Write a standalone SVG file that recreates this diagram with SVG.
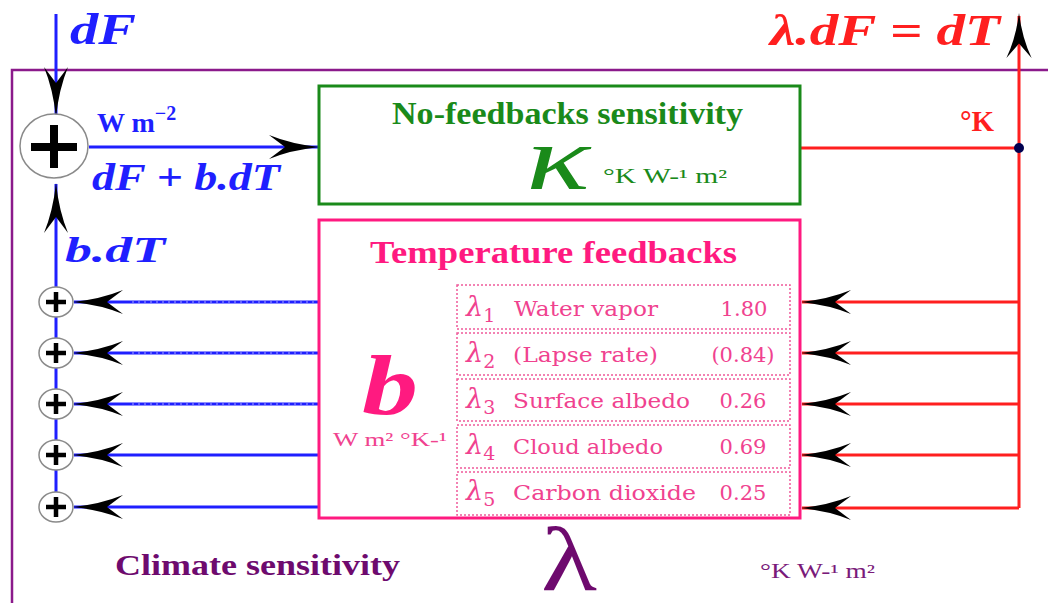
<svg xmlns="http://www.w3.org/2000/svg" width="1048" height="603" viewBox="0 0 1048 603">
<style>
.ser{font-family:"Liberation Serif","Times New Roman",serif}
.tab{font-family:"DejaVu Serif","Liberation Serif",serif;font-size:21px;fill:#f0428f}
.blu{fill:#1f1fff;font-weight:bold;font-style:italic}
.bl{stroke:#1f1fff;stroke-width:3;fill:none}
.rl{stroke:#ff1f1f;stroke-width:3;fill:none}
.sc{fill:#fff;stroke:#8a8a8a;stroke-width:1.5}
.row{fill:none;stroke:#f05a9a;stroke-width:1.5;stroke-dasharray:2 2}
</style>
<defs>
<path id="ah" d="M0,0 Q28,-3 50,-12 L34,0 L50,12 Q28,3 0,0 Z" fill="#000"/>
<g id="sp">
<ellipse class="sc" cx="0" cy="0" rx="17" ry="15"/>
<path d="M-10,0 H10 M0,-10 V10" stroke="#000" stroke-width="4.5"/>
</g>
</defs>
<rect width="1048" height="603" fill="#fff"/>
<g id="outer">
<path d="M1060,70 H12 V620" fill="none" stroke="#8b1a8b" stroke-width="2.5"/>
<text class="ser" x="115" y="575" font-size="30" font-weight="bold" fill="#6e0a6e" textLength="285" lengthAdjust="spacingAndGlyphs">Climate sensitivity</text>
<text class="ser" x="541" y="590" font-size="90" fill="#6e0a6e" textLength="56" lengthAdjust="spacingAndGlyphs">λ</text>
<text class="ser" x="760" y="578" font-size="20" fill="#7a1a7a" textLength="115" lengthAdjust="spacingAndGlyphs">°K W-¹ m²</text>
</g>
<g id="connectors">
<path class="bl" d="M56,14 V116"/>
<path class="bl" d="M89,147 H318"/>
<path class="bl" d="M56,184 V507"/>
<path class="bl" d="M320,302 H74 M320,353 H74 M320,404 H74 M320,455 H74 M320,507 H74"/>
<path d="M320,302 H130 M320,353 H130 M320,404 H130" stroke="#fff" stroke-width="1" stroke-dasharray="2 4" opacity="0.6"/>
<path class="rl" d="M800,148 H1019 M1019,508 V16 M1019,302 H802 M1019,353 H802 M1019,404 H802 M1019,455 H802 M1019,508 H802"/>
<circle cx="1019" cy="148" r="5" fill="#000050"/>
<use href="#ah" transform="translate(56,117) rotate(-90)"/>
<use href="#ah" transform="translate(56,183) rotate(90)"/>
<use href="#ah" transform="translate(319,147) rotate(180)"/>
<use href="#ah" transform="translate(1019,13) rotate(90) scale(0.9,1.05)"/>
<use href="#ah" transform="translate(73,302)"/>
<use href="#ah" transform="translate(73,353)"/>
<use href="#ah" transform="translate(73,404)"/>
<use href="#ah" transform="translate(73,455)"/>
<use href="#ah" transform="translate(73,507)"/>
<use href="#ah" transform="translate(801,302)"/>
<use href="#ah" transform="translate(801,353)"/>
<use href="#ah" transform="translate(801,404)"/>
<use href="#ah" transform="translate(801,455)"/>
<use href="#ah" transform="translate(801,508)"/>
</g>
<g id="labels">
<text class="ser blu" x="70" y="44" font-size="44" textLength="66" lengthAdjust="spacingAndGlyphs">dF</text>
<text class="ser" x="97" y="132" font-size="28" font-weight="bold" fill="#1f1fff">W m<tspan dy="-12" font-size="20">−2</tspan></text>
<text class="ser blu" x="92" y="190" font-size="38" textLength="188" lengthAdjust="spacingAndGlyphs">dF + b.dT</text>
<text class="ser blu" x="65" y="262" font-size="36" textLength="100" lengthAdjust="spacingAndGlyphs">b.dT</text>
<text class="ser" x="770" y="45" font-size="44" font-weight="bold" font-style="italic" fill="#ff1f1f" textLength="230" lengthAdjust="spacingAndGlyphs">λ.dF = dT</text>
<text class="ser" x="960" y="131" font-size="29" font-weight="bold" fill="#ff1f1f">°K</text>
</g>
<g id="sum-main">
<ellipse cx="54" cy="146" rx="34" ry="32" fill="#fff" stroke="#8a8a8a" stroke-width="1.5"/>
<path d="M31,147 H77 M54,125 V168" stroke="#000" stroke-width="8"/>
</g>
<g id="sum1"><use href="#sp" transform="translate(56,302)"/></g>
<g id="sum2"><use href="#sp" transform="translate(56,353)"/></g>
<g id="sum3"><use href="#sp" transform="translate(56,404)"/></g>
<g id="sum4"><use href="#sp" transform="translate(56,455)"/></g>
<g id="sum5"><use href="#sp" transform="translate(56,507)"/></g>
<g id="no-feedbacks">
<rect x="319" y="86" width="481" height="118" fill="#fff" stroke="#1a8a1a" stroke-width="3"/>
<text class="ser" x="392" y="124" font-size="31" font-weight="bold" fill="#1a8a1a" textLength="351" lengthAdjust="spacingAndGlyphs">No-feedbacks sensitivity</text>
<text class="ser" x="526" y="189" font-size="92" font-style="italic" fill="#1a8a1a" textLength="64" lengthAdjust="spacingAndGlyphs">κ</text>
<text class="ser" x="603" y="183" font-size="20" fill="#1a8a1a" textLength="124" lengthAdjust="spacingAndGlyphs">°K W-¹ m²</text>
</g>
<g id="temperature-feedbacks">
<rect x="319" y="220" width="481" height="298" fill="#fff" stroke="#ff1a80" stroke-width="3"/>
<text class="ser" x="370" y="263" font-size="31" font-weight="bold" fill="#ff1a80" textLength="367" lengthAdjust="spacingAndGlyphs">Temperature feedbacks</text>
<text class="ser" x="362" y="414" font-size="84" font-weight="bold" font-style="italic" fill="#ff1a80" textLength="56" lengthAdjust="spacingAndGlyphs">b</text>
<text class="ser" x="333" y="446" font-size="19" fill="#f0428f" textLength="114" lengthAdjust="spacingAndGlyphs">W m² °K-¹</text>
<rect class="row" x="457" y="285" width="333" height="44"/>
<rect class="row" x="457" y="333" width="333" height="42"/>
<rect class="row" x="457" y="379" width="333" height="42"/>
<rect class="row" x="457" y="425" width="333" height="43"/>
<rect class="row" x="457" y="472" width="333" height="43"/>
<g class="tab">
<text x="466" y="316" font-size="27" font-style="italic">λ<tspan dy="6" font-size="19" font-style="normal">1</tspan></text>
<text x="514" y="316" textLength="144" lengthAdjust="spacingAndGlyphs">Water vapor</text>
<text x="744" y="316" text-anchor="middle">1.80</text>
<text x="466" y="362" font-size="27" font-style="italic">λ<tspan dy="6" font-size="19" font-style="normal">2</tspan></text>
<text x="513" y="362" textLength="145" lengthAdjust="spacingAndGlyphs">(Lapse rate)</text>
<text x="743" y="362" text-anchor="middle">(0.84)</text>
<text x="466" y="408" font-size="27" font-style="italic">λ<tspan dy="6" font-size="19" font-style="normal">3</tspan></text>
<text x="513" y="408" textLength="177" lengthAdjust="spacingAndGlyphs">Surface albedo</text>
<text x="743" y="408" text-anchor="middle">0.26</text>
<text x="466" y="454" font-size="27" font-style="italic">λ<tspan dy="6" font-size="19" font-style="normal">4</tspan></text>
<text x="513" y="454" textLength="150" lengthAdjust="spacingAndGlyphs">Cloud albedo</text>
<text x="743" y="454" text-anchor="middle">0.69</text>
<text x="466" y="500" font-size="27" font-style="italic">λ<tspan dy="6" font-size="19" font-style="normal">5</tspan></text>
<text x="513" y="500" textLength="183" lengthAdjust="spacingAndGlyphs">Carbon dioxide</text>
<text x="743" y="500" text-anchor="middle">0.25</text>
</g>
</g>
</svg>
